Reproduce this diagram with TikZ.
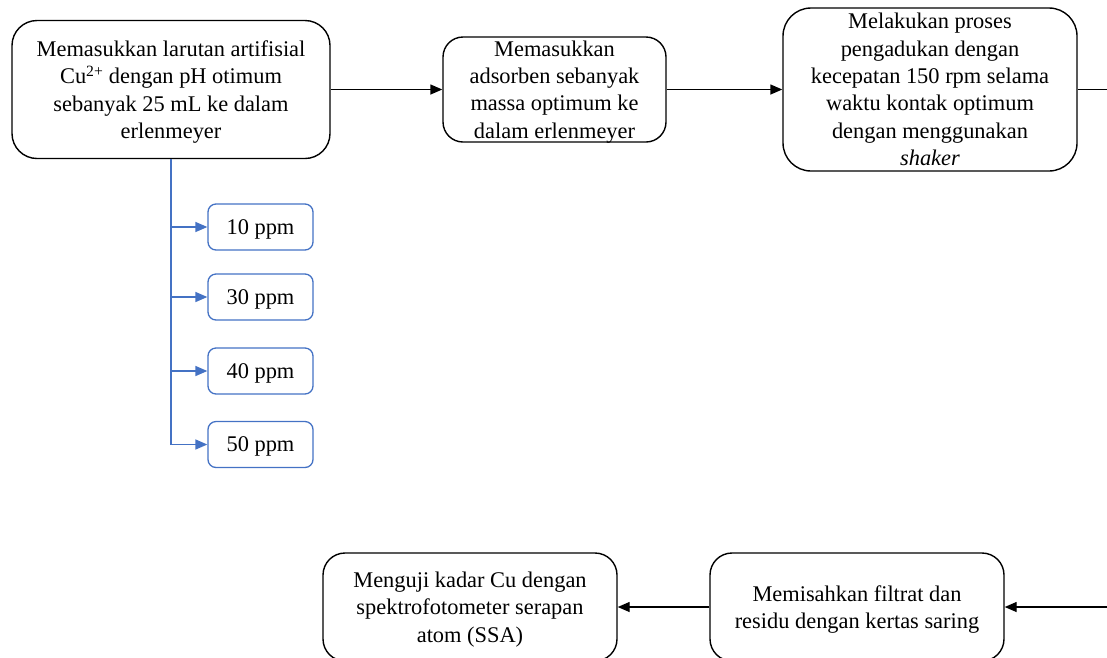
\documentclass[tikz,border=0pt]{standalone}
\usepackage{fontspec}
\setmainfont{Liberation Serif}
\usetikzlibrary{arrows.meta}
\definecolor{bl}{HTML}{4472C4}
\begin{document}
\begin{tikzpicture}[x=1pt,y=-1pt,
  box/.style={draw=black, line width=1.4pt, rounded corners=#1, align=center, inner sep=0pt,
    text depth=-2pt, font=\fontsize{22.4}{27.4}\selectfont},
  ppm/.style={draw=bl, line width=1.3pt, rounded corners=8pt, align=center, inner sep=0pt,
    text depth=-1pt, minimum width=105pt, minimum height=46pt, font=\fontsize{22.4}{27.4}\selectfont},
  arr/.style={draw=black, line width=1.4pt, -{Triangle[length=12pt,width=10pt]}},
  barr/.style={draw=bl, line width=1.5pt, -{Triangle[length=12pt,width=10pt]}},
  bline/.style={draw=bl, line width=1.5pt}]
\clip (0,0) rectangle (1107,657);
\useasboundingbox (0,0) rectangle (1107,657);
\node[box=25pt, minimum width=318pt, minimum height=138pt] (A) at (171,89.5)
  {Memasukkan larutan artifisial\\Cu\textsuperscript{2+} dengan pH otimum\\sebanyak 25 mL ke dalam\\erlenmeyer};
\node[box=20pt, minimum width=223pt, minimum height=105pt] (B) at (554.5,89.5)
  {Memasukkan\\adsorben sebanyak\\massa optimum ke\\dalam erlenmeyer};
\node[box=28pt, minimum width=294pt, minimum height=163pt] (C) at (930,89.5)
  {Melakukan proses\\pengadukan dengan\\kecepatan 150 rpm selama\\waktu kontak optimum\\dengan menggunakan\\\textit{shaker}};
\node[box=22pt, minimum width=294pt, minimum height=108pt] (D) at (857,607)
  {Memisahkan filtrat dan\\residu dengan kertas saring};
\node[box=22pt, minimum width=294pt, minimum height=108pt] (E) at (470,607)
  {Menguji kadar Cu dengan\\spektrofotometer serapan\\atom (SSA)};
\node[ppm] (p10) at (260.5,227) {10 ppm};
\node[ppm] (p30) at (260.5,297) {30 ppm};
\node[ppm] (p40) at (260.5,371) {40 ppm};
\node[ppm] (p50) at (260.5,444.5) {50 ppm};
\coordinate (cout) at (1115,89.5);
\coordinate (din) at (1115,607);
\draw[arr] (A.east) -- (B.west);
\draw[arr] (B.east) -- (C.west);
\draw[line width=1.4pt] (C.east) -- (cout);
\draw[arr] (din) -- (D.east);
\draw[arr] (D.west) -- (E.east);
\draw[bline] (A.south) -- (A.south |- p50.west);
\draw[barr] (A.south |- p10.west) -- (p10.west);
\draw[barr] (A.south |- p30.west) -- (p30.west);
\draw[barr] (A.south |- p40.west) -- (p40.west);
\draw[barr] (A.south |- p50.west) -- (p50.west);
\end{tikzpicture}
\end{document}
